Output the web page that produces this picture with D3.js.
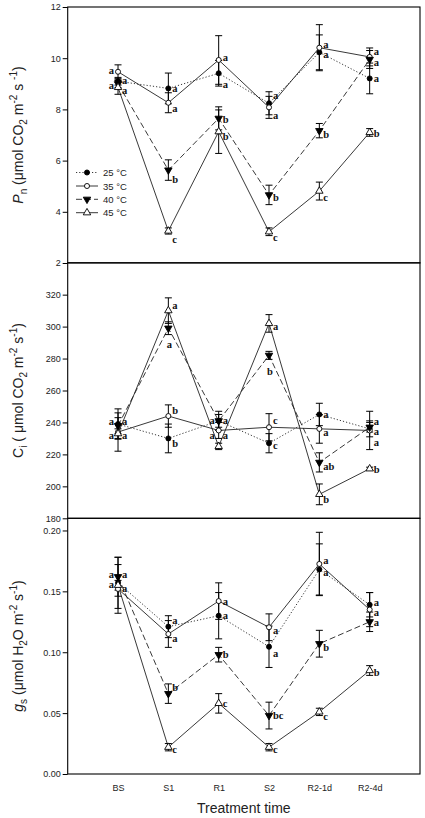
<!DOCTYPE html>
<html><head><meta charset="utf-8">
<script src="https://cdn.jsdelivr.net/npm/d3@7"></script>
<style>
html,body{margin:0;padding:0;background:#fff;}
svg{display:block;}
</style></head>
<body>
<svg id="chart" width="425" height="818"></svg>
<script>
// ---------- DATA ----------
const categories = ["BS", "S1", "R1", "S2", "R2-1d", "R2-4d"];
const seriesNames = ["25 °C", "35 °C", "40 °C", "45 °C"];

// Net photosynthesis Pn
const pn25 = [9.10, 8.82, 9.41, 8.24, 10.23, 9.21];
const pn35 = [9.47, 8.26, 9.93, 8.08, 10.41, 10.05];
const pn40 = [9.00, 5.63, 7.65, 4.66, 7.17, 9.95];
const pn45 = [8.86, 3.25, 7.13, 3.22, 4.81, 7.10];
const pn25Err = [0.15, 0.60, 0.50, 0.45, 0.68, 0.60];
const pn35Err = [0.27, 0.39, 0.95, 0.43, 0.90, 0.35];
const pn40Err = [0.15, 0.40, 0.45, 0.38, 0.28, 0.35];
const pn45Err = [0.27, 0.12, 0.85, 0.15, 0.35, 0.15];
const pn25Sig = ["a", "a", "a", "a", "a", "a"];
const pn35Sig = ["a", "a", "a", "a", "a", "a"];
const pn40Sig = ["a", "b", "b", "b", "b", "a"];
const pn45Sig = ["a", "c", "b", "c", "c", "b"];
const pnTicks = [2, 4, 6, 8, 10, 12];

// Intercellular CO2 Ci
const ci25 = [239, 230, 241, 227, 245, 236];
const ci35 = [234, 244, 235, 237, 236, 235];
const ci40 = [238, 299, 241, 282, 215, 237];
const ci45 = [233, 310, 225, 302, 195, 211];
const ci25Err = [9.5, 9, 6, 6, 7, 5];
const ci35Err = [12, 7, 5, 8.5, 9, 12];
const ci40Err = [5, 4, 4, 2.5, 6, 3];
const ci45Err = [3, 8, 2, 5.5, 6.5, 1];
const ci25Sig = ["a", "b", "a", "c", "a", "a"];
const ci35Sig = ["a", "b", "a", "c", "a", "a"];
const ci40Sig = ["a", "a", "a", "b", "ab", "a"];
const ci45Sig = ["a", "a", "a", "a", "b", "b"];
const ciTicks = [180, 200, 220, 240, 260, 280, 300, 320];

// Stomatal conductance gs
const gs25 = [0.157, 0.121, 0.130, 0.1045, 0.168, 0.139];
const gs35 = [0.152, 0.115, 0.142, 0.1205, 0.1725, 0.135];
const gs40 = [0.162, 0.066, 0.098, 0.048, 0.107, 0.125];
const gs45 = [0.155, 0.022, 0.058, 0.022, 0.051, 0.085];
const gs25Err = [0.021, 0.009, 0.019, 0.017, 0.021, 0.010];
const gs35Err = [0.020, 0.011, 0.015, 0.011, 0.026, 0.014];
const gs40Err = [0.016, 0.008, 0.006, 0.011, 0.011, 0.008];
const gs45Err = [0.004, 0.003, 0.008, 0.003, 0.003, 0.004];
const gs25Sig = ["a", "a", "a", "a", "a", "a"];
const gs35Sig = ["a", "a", "a", "a", "a", "a"];
const gs40Sig = ["a", "b", "b", "bc", "b", "a"];
const gs45Sig = ["a", "c", "c", "c", "c", "b"];
const gsTicks = [0.00, 0.05, 0.10, 0.15, 0.20];

// ---------- LAYOUT ----------
const svg = d3.select("#chart");
const X0 = 67.7, X1 = 420;
const x = d3.scaleLinear().domain([0, 7]).range([X0, X1]);

const panels = [
  { vals: [pn25, pn35, pn40, pn45], errs: [pn25Err, pn35Err, pn40Err, pn45Err],
    sigs: [pn25Sig, pn35Sig, pn40Sig, pn45Sig], ticks: pnTicks, fmt: d3.format("d"),
    y: d3.scaleLinear().domain([2, 12]).range([263, 7]) },
  { vals: [ci25, ci35, ci40, ci45], errs: [ci25Err, ci35Err, ci40Err, ci45Err],
    sigs: [ci25Sig, ci35Sig, ci40Sig, ci45Sig], ticks: ciTicks, fmt: d3.format("d"),
    y: d3.scaleLinear().domain([180, 340]).range([518.3, 262.7]) },
  { vals: [gs25, gs35, gs40, gs45], errs: [gs25Err, gs35Err, gs40Err, gs45Err],
    sigs: [gs25Sig, gs35Sig, gs40Sig, gs45Sig], ticks: gsTicks, fmt: d3.format(".2f"),
    y: d3.scaleLinear().domain([0, 0.21]).range([774, 518.3]) }
];

// label placement nudges: key "panel-series-cat" -> [side, dy]; side: r / l / b(below)
const nudge = {
  // Pn
  "0-0-0": ["r", -1], "0-1-0": ["l", -1], "0-2-0": ["l", 2], "0-3-0": ["r", 3],
  "0-0-1": ["r", 0], "0-1-1": ["r", 6], "0-2-1": ["r", 9], "0-3-1": ["r", 8],
  "0-0-2": ["r", 11], "0-1-2": ["r", -2], "0-2-2": ["r", 1], "0-3-2": ["r", 5],
  "0-0-3": ["r", -8], "0-1-3": ["r", 8], "0-2-3": ["r", 3], "0-3-3": ["r", 6],
  "0-0-4": ["r", 2], "0-1-4": ["r", -3], "0-2-4": ["r", 4], "0-3-4": ["r", 6],
  "0-0-5": ["r", 0], "0-1-5": ["r", -5], "0-2-5": ["r", 3], "0-3-5": ["r", 1],
  // Ci
  "1-0-0": ["l", -3], "1-1-0": ["l", 3], "1-2-0": ["r", -4], "1-3-0": ["r", 2],
  "1-0-1": ["r", 5], "1-1-1": ["r", -6], "1-2-1": ["b", 16], "1-3-1": ["r", -5],
  "1-0-2": ["l", 0], "1-1-2": ["l", 5], "1-2-2": ["r", 0], "1-3-2": ["r", -11],
  "1-0-3": ["r", 2], "1-1-3": ["r", -7], "1-2-3": ["b", 16], "1-3-3": ["r", 3],
  "1-0-4": ["r", 0], "1-1-4": ["r", 4], "1-2-4": ["r", 4], "1-3-4": ["r", 5],
  "1-0-5": ["r", 3], "1-1-5": ["r", 12], "1-2-5": ["r", -6], "1-3-5": ["r", 1],
  // gs
  "2-0-0": ["l", -8], "2-1-0": ["l", -4], "2-2-0": ["r", -2], "2-3-0": ["r", 3],
  "2-0-1": ["r", -6], "2-1-1": ["r", 5], "2-2-1": ["r", -6], "2-3-1": ["r", 2],
  "2-0-3": ["r", 7], "2-1-3": ["r", 3], "2-2-3": ["r", 0], "2-3-3": ["r", 2],
  "2-0-4": ["r", 3], "2-1-4": ["r", -3], "2-2-4": ["r", 4], "2-3-4": ["r", 5],
  "2-0-5": ["r", -2], "2-1-5": ["r", 3], "2-2-5": ["r", 1], "2-3-5": ["r", 2]
};

const styles = [
  { dash: "1.2,2", symbol: d3.symbolCircle, size: 20, fill: "#000", rot: 0 },
  { dash: null, symbol: d3.symbolCircle, size: 20, fill: "#fff", rot: 0 },
  { dash: "6,3", symbol: d3.symbolTriangle, size: 24, fill: "#000", rot: 180 },
  { dash: null, symbol: d3.symbolTriangle, size: 24, fill: "#fff", rot: 0 }
];
const lineColor = "#222";
const tickFont = "Liberation Sans, Arial, sans-serif";

panels.forEach((p, pi) => {
  const g = svg.append("g");
  const y = p.y;
  // frame
  g.append("rect").attr("x", X0).attr("y", y.range()[1])
    .attr("width", X1 - X0).attr("height", y.range()[0] - y.range()[1])
    .attr("fill", "none").attr("stroke", "#000").attr("stroke-width", 1.1);
  // y axis
  const ax = g.append("g").attr("transform", `translate(${X0},0)`)
    .call(d3.axisLeft(y).tickValues(p.ticks).tickFormat(p.fmt).tickSize(5).tickPadding(2).tickSizeOuter(0));
  ax.select(".domain").remove();
  ax.selectAll("text").attr("font-family", tickFont).attr("font-size", 9).attr("fill", "#222");
  ax.selectAll("line").attr("stroke", "#000");

  const pts = p.vals.map(v => v.map((d, i) => ({ i, v: d })));
  // lines
  const line = d3.line().x(d => x(d.i + 1)).y(d => y(d.v));
  pts.forEach((s, si) => {
    g.append("path").attr("d", line(s)).attr("fill", "none")
      .attr("stroke", lineColor).attr("stroke-width", 0.9)
      .attr("stroke-dasharray", styles[si].dash);
  });
  // error bars
  pts.forEach((s, si) => {
    s.forEach(d => {
      const e = p.errs[si][d.i];
      const cx = x(d.i + 1), yt = y(d.v + e), yb = y(d.v - e);
      const eg = g.append("g").attr("stroke", "#000").attr("stroke-width", 1);
      eg.append("line").attr("x1", cx).attr("x2", cx).attr("y1", yt).attr("y2", yb);
      eg.append("line").attr("x1", cx - 3.5).attr("x2", cx + 3.5).attr("y1", yt).attr("y2", yt);
      eg.append("line").attr("x1", cx - 3.5).attr("x2", cx + 3.5).attr("y1", yb).attr("y2", yb);
    });
  });
  // markers
  pts.forEach((s, si) => {
    const st = styles[si];
    g.selectAll(null).data(s).enter().append("path")
      .attr("d", d3.symbol().type(st.symbol).size(st.size))
      .attr("transform", d => `translate(${x(d.i + 1)},${y(d.v)}) rotate(${st.rot})`)
      .attr("fill", st.fill).attr("stroke", "#000").attr("stroke-width", 0.9);
  });
  // significance letters
  pts.forEach((s, si) => {
    s.forEach(d => {
      const n = nudge[`${pi}-${si}-${d.i}`] || ["r", 0];
      const cx = x(d.i + 1), cy = y(d.v);
      let tx = cx + 4, anchor = "start";
      if (n[0] === "l") { tx = cx - 4; anchor = "end"; }
      if (n[0] === "b") { tx = cx + 1; anchor = "middle"; }
      g.append("text").attr("x", tx).attr("y", cy + n[1])
        .attr("text-anchor", anchor).attr("dominant-baseline", "central")
        .attr("font-family", "Liberation Serif, Times New Roman, serif")
        .attr("font-weight", "bold").attr("font-size", 10.5).attr("fill", "#111")
        .text(p.sigs[si][d.i]);
    });
  });
});

// x axis tick labels
const xa = svg.append("g").attr("transform", "translate(0,774)")
  .call(d3.axisBottom(x).tickValues([1, 2, 3, 4, 5, 6]).tickFormat(d => categories[d - 1]).tickSize(0).tickPadding(11));
xa.select(".domain").remove();
xa.selectAll("text").attr("font-family", tickFont).attr("font-size", 9).attr("fill", "#222");

// x axis title
svg.append("text").attr("x", (X0 + X1) / 2).attr("y", 813).attr("text-anchor", "middle")
  .attr("font-family", tickFont).attr("font-size", 14).attr("fill", "#222").text("Treatment time");

// y axis titles
function yTitle(cy, parts) {
  const t = svg.append("text").attr("transform", `translate(23,${cy}) rotate(-90)`)
    .attr("text-anchor", "middle").attr("font-family", tickFont).attr("font-size", 14).attr("fill", "#222");
  let shift = 0;
  parts.forEach(([txt, kind, italic]) => {
    const ts = t.append("tspan").text(txt);
    let target = 0;
    if (kind === "sub") target = 4; else if (kind === "sup") target = -6;
    if (kind) ts.attr("font-size", 10);
    ts.attr("dy", target - shift); shift = target;
    if (italic) ts.attr("font-style", "italic");
  });
}
yTitle(135, [["P", null, true], ["n", "sub"], [" (μmol CO", null], ["2", "sub"], [" m", null], ["-2", "sup"], [" s ", null], ["-1", "sup"], [")", null]]);
yTitle(390.5, [["C", null], ["i", "sub"], [" ( μmol CO", null], ["2", "sub"], [" m", null], ["-2", "sup"], [" s", null], ["-1", "sup"], [")", null]]);
yTitle(646, [["g", null, true], ["s", "sub"], [" (μmol H", null], ["2", "sub"], ["O m", null], ["-2", "sup"], [" s", null], ["-1", "sup"], [")", null]]);

// legend
const leg = svg.append("g");
const legY = [172.5, 186, 199.3, 212.7];
seriesNames.forEach((name, si) => {
  const st = styles[si];
  const yy = legY[si];
  leg.append("line").attr("x1", 76).attr("x2", 98).attr("y1", yy).attr("y2", yy)
    .attr("stroke", lineColor).attr("stroke-width", 0.9).attr("stroke-dasharray", st.dash);
  leg.append("path").attr("d", d3.symbol().type(st.symbol).size(st.size))
    .attr("transform", `translate(87,${yy}) rotate(${st.rot})`)
    .attr("fill", st.fill).attr("stroke", "#000").attr("stroke-width", 0.9);
  leg.append("text").attr("x", 103).attr("y", yy).attr("dominant-baseline", "central")
    .attr("font-family", tickFont).attr("font-size", 9.5).attr("fill", "#222").text(name);
});
</script>
</body></html>
